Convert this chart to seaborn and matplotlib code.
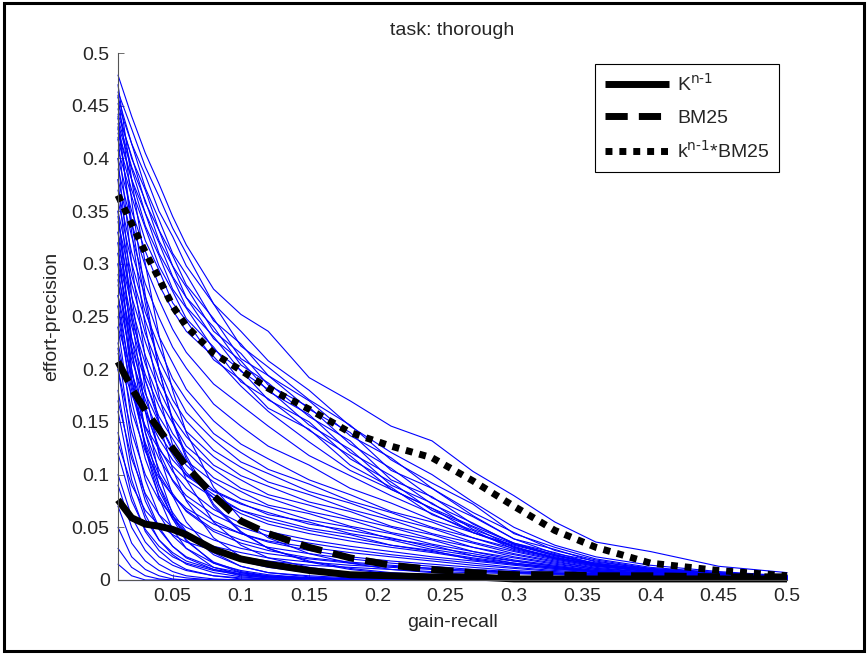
import matplotlib
matplotlib.use("Agg")
import matplotlib.pyplot as plt
import numpy as np
import pandas as pd
import seaborn as sns
from matplotlib.patches import Rectangle
from matplotlib.lines import Line2D

# ---------------- data ----------------
recall = [0.01, 0.02, 0.03, 0.04, 0.05, 0.06, 0.08, 0.10, 0.12, 0.15,
          0.18, 0.21, 0.24, 0.27, 0.30, 0.33, 0.36, 0.40, 0.45, 0.50]

k_n1 = [0.076, 0.059, 0.053, 0.051, 0.048, 0.043, 0.029, 0.020, 0.015, 0.009,
        0.005, 0.004, 0.003, 0.003, 0.001, 0.001, 0.001, 0.001, 0.001, 0.001]
bm25 = [0.207, 0.182, 0.161, 0.143, 0.125, 0.108, 0.080, 0.056, 0.044, 0.031,
        0.021, 0.014, 0.010, 0.007, 0.005, 0.005, 0.004, 0.004, 0.003, 0.003]
k_bm25 = [0.365, 0.338, 0.311, 0.286, 0.260, 0.241, 0.215, 0.199, 0.182, 0.162,
          0.140, 0.127, 0.116, 0.094, 0.070, 0.047, 0.031, 0.016, 0.009, 0.004]

runs_upper = [
    [0.479, 0.440, 0.405, 0.376, 0.345, 0.318, 0.276, 0.252, 0.236, 0.192, 0.170, 0.146, 0.132, 0.103, 0.080, 0.055, 0.036, 0.027, 0.013, 0.007],
    [0.463, 0.428, 0.392, 0.364, 0.334, 0.310, 0.262, 0.236, 0.208, 0.180, 0.146, 0.121, 0.100, 0.074, 0.050, 0.033, 0.022, 0.014, 0.008, 0.004],
    [0.458, 0.414, 0.384, 0.350, 0.326, 0.298, 0.262, 0.222, 0.202, 0.171, 0.147, 0.114, 0.092, 0.072, 0.044, 0.031, 0.020, 0.012, 0.007, 0.004],
    [0.452, 0.414, 0.372, 0.342, 0.310, 0.290, 0.246, 0.224, 0.194, 0.170, 0.137, 0.116, 0.087, 0.064, 0.045, 0.028, 0.019, 0.011, 0.007, 0.004],
    [0.447, 0.400, 0.370, 0.332, 0.308, 0.280, 0.248, 0.210, 0.194, 0.162, 0.140, 0.104, 0.087, 0.061, 0.039, 0.029, 0.017, 0.011, 0.006, 0.003],
    [0.442, 0.402, 0.358, 0.332, 0.298, 0.278, 0.236, 0.215, 0.185, 0.164, 0.129, 0.106, 0.078, 0.060, 0.039, 0.025, 0.018, 0.010, 0.006, 0.003],
    [0.438, 0.392, 0.360, 0.322, 0.298, 0.268, 0.240, 0.204, 0.187, 0.155, 0.132, 0.095, 0.079, 0.053, 0.035, 0.026, 0.015, 0.010, 0.006, 0.003],
    [0.433, 0.390, 0.348, 0.320, 0.288, 0.268, 0.229, 0.208, 0.179, 0.157, 0.121, 0.099, 0.072, 0.054, 0.034, 0.023, 0.016, 0.009, 0.005, 0.003],
    [0.428, 0.380, 0.348, 0.310, 0.287, 0.259, 0.231, 0.198, 0.181, 0.147, 0.124, 0.090, 0.073, 0.048, 0.034, 0.024, 0.014, 0.009, 0.005, 0.003],
    [0.424, 0.380, 0.336, 0.308, 0.276, 0.258, 0.219, 0.199, 0.171, 0.150, 0.115, 0.093, 0.066, 0.050, 0.031, 0.021, 0.015, 0.009, 0.005, 0.003],
    [0.418, 0.370, 0.334, 0.298, 0.274, 0.248, 0.221, 0.188, 0.172, 0.142, 0.118, 0.086, 0.068, 0.045, 0.032, 0.020, 0.013, 0.008, 0.005, 0.003],
    [0.408, 0.364, 0.322, 0.294, 0.263, 0.246, 0.209, 0.190, 0.163, 0.143, 0.109, 0.088, 0.062, 0.047, 0.029, 0.021, 0.014, 0.008, 0.005, 0.003],
]

runs_middle = [
    [0.400, 0.350, 0.312, 0.280, 0.256, 0.236, 0.212, 0.184, 0.160, 0.131, 0.104, 0.086, 0.068, 0.051, 0.035, 0.024, 0.016, 0.010, 0.006, 0.003],
    [0.390, 0.338, 0.298, 0.266, 0.238, 0.216, 0.186, 0.166, 0.146, 0.118, 0.099, 0.080, 0.063, 0.045, 0.033, 0.023, 0.015, 0.009, 0.005, 0.003],
    [0.380, 0.326, 0.281, 0.249, 0.221, 0.201, 0.167, 0.146, 0.127, 0.109, 0.087, 0.073, 0.057, 0.045, 0.031, 0.022, 0.014, 0.009, 0.005, 0.003],
    [0.370, 0.311, 0.269, 0.231, 0.206, 0.181, 0.151, 0.129, 0.115, 0.095, 0.081, 0.065, 0.055, 0.040, 0.030, 0.021, 0.014, 0.008, 0.005, 0.002],
    [0.360, 0.301, 0.254, 0.221, 0.191, 0.171, 0.139, 0.121, 0.105, 0.091, 0.075, 0.064, 0.050, 0.040, 0.028, 0.020, 0.013, 0.008, 0.004, 0.002],
    [0.350, 0.289, 0.246, 0.209, 0.183, 0.159, 0.133, 0.112, 0.101, 0.084, 0.073, 0.059, 0.049, 0.036, 0.027, 0.019, 0.012, 0.007, 0.004, 0.002],
    [0.340, 0.281, 0.234, 0.201, 0.171, 0.151, 0.123, 0.107, 0.093, 0.081, 0.067, 0.057, 0.044, 0.035, 0.025, 0.018, 0.011, 0.007, 0.004, 0.002],
    [0.330, 0.269, 0.226, 0.189, 0.164, 0.141, 0.117, 0.099, 0.089, 0.074, 0.065, 0.051, 0.043, 0.031, 0.024, 0.017, 0.011, 0.007, 0.004, 0.002],
    [0.320, 0.259, 0.213, 0.181, 0.154, 0.136, 0.109, 0.095, 0.081, 0.071, 0.059, 0.050, 0.039, 0.031, 0.022, 0.016, 0.010, 0.006, 0.003, 0.002],
    [0.310, 0.247, 0.205, 0.171, 0.149, 0.127, 0.105, 0.087, 0.078, 0.065, 0.057, 0.045, 0.038, 0.027, 0.021, 0.015, 0.010, 0.006, 0.003, 0.002],
    [0.300, 0.241, 0.195, 0.165, 0.139, 0.122, 0.097, 0.084, 0.071, 0.063, 0.051, 0.044, 0.034, 0.027, 0.019, 0.014, 0.009, 0.005, 0.003, 0.002],
    [0.290, 0.229, 0.189, 0.155, 0.134, 0.113, 0.093, 0.077, 0.069, 0.057, 0.050, 0.039, 0.033, 0.023, 0.018, 0.013, 0.008, 0.005, 0.003, 0.001],
    [0.280, 0.221, 0.177, 0.149, 0.125, 0.109, 0.085, 0.073, 0.062, 0.055, 0.044, 0.038, 0.029, 0.023, 0.016, 0.012, 0.008, 0.005, 0.003, 0.001],
    [0.270, 0.209, 0.171, 0.139, 0.119, 0.099, 0.081, 0.066, 0.059, 0.049, 0.043, 0.033, 0.028, 0.019, 0.015, 0.011, 0.007, 0.004, 0.002, 0.001],
    [0.240, 0.196, 0.160, 0.134, 0.114, 0.100, 0.084, 0.072, 0.064, 0.053, 0.047, 0.040, 0.031, 0.025, 0.018, 0.013, 0.009, 0.006, 0.003, 0.002],
    [0.215, 0.176, 0.146, 0.124, 0.108, 0.095, 0.078, 0.066, 0.056, 0.047, 0.040, 0.033, 0.027, 0.021, 0.016, 0.012, 0.008, 0.005, 0.003, 0.002],
    [0.260, 0.190, 0.145, 0.115, 0.095, 0.080, 0.062, 0.050, 0.042, 0.035, 0.029, 0.024, 0.020, 0.016, 0.012, 0.009, 0.007, 0.005, 0.003, 0.002],
    [0.310, 0.215, 0.160, 0.126, 0.103, 0.087, 0.067, 0.054, 0.046, 0.038, 0.032, 0.027, 0.022, 0.018, 0.014, 0.010, 0.008, 0.005, 0.003, 0.002],
    [0.345, 0.255, 0.190, 0.150, 0.122, 0.102, 0.078, 0.063, 0.053, 0.044, 0.037, 0.031, 0.026, 0.020, 0.015, 0.011, 0.008, 0.005, 0.003, 0.002],
    [0.225, 0.160, 0.122, 0.097, 0.080, 0.068, 0.053, 0.044, 0.037, 0.031, 0.026, 0.022, 0.018, 0.014, 0.011, 0.008, 0.006, 0.004, 0.003, 0.002],
]

runs_steep = [
    [0.470, 0.380, 0.300, 0.232, 0.180, 0.140, 0.088, 0.058, 0.040, 0.025, 0.016, 0.010, 0.007, 0.005, 0.003, 0.002, 0.001, 0.001, 0.000, 0.000],
    [0.460, 0.360, 0.270, 0.200, 0.150, 0.115, 0.070, 0.045, 0.030, 0.018, 0.011, 0.007, 0.005, 0.003, 0.002, 0.001, 0.001, 0.000, 0.000, 0.000],
    [0.440, 0.330, 0.240, 0.175, 0.128, 0.095, 0.055, 0.033, 0.021, 0.012, 0.007, 0.004, 0.003, 0.002, 0.001, 0.001, 0.000, 0.000, 0.000, 0.000],
    [0.430, 0.340, 0.262, 0.200, 0.152, 0.118, 0.072, 0.046, 0.030, 0.017, 0.010, 0.006, 0.004, 0.002, 0.001, 0.001, 0.000, 0.000, 0.000, 0.000],
    [0.420, 0.300, 0.210, 0.150, 0.105, 0.075, 0.040, 0.022, 0.013, 0.007, 0.004, 0.002, 0.001, 0.001, 0.000, 0.000, 0.000, 0.000, 0.000, 0.000],
    [0.400, 0.270, 0.180, 0.120, 0.080, 0.055, 0.026, 0.013, 0.007, 0.004, 0.002, 0.001, 0.000, 0.000, 0.000, 0.000, 0.000, 0.000, 0.000, 0.000],
    [0.380, 0.250, 0.160, 0.100, 0.062, 0.038, 0.016, 0.007, 0.003, 0.001, 0.000, 0.000, 0.000, 0.000, 0.000, 0.000, 0.000, 0.000, 0.000, 0.000],
    [0.350, 0.220, 0.140, 0.090, 0.058, 0.037, 0.017, 0.008, 0.004, 0.002, 0.001, 0.000, 0.000, 0.000, 0.000, 0.000, 0.000, 0.000, 0.000, 0.000],
    [0.320, 0.200, 0.125, 0.078, 0.048, 0.030, 0.012, 0.005, 0.002, 0.001, 0.000, 0.000, 0.000, 0.000, 0.000, 0.000, 0.000, 0.000, 0.000, 0.000],
    [0.300, 0.190, 0.125, 0.085, 0.060, 0.045, 0.028, 0.018, 0.012, 0.007, 0.004, 0.003, 0.002, 0.001, 0.000, 0.000, 0.000, 0.000, 0.000, 0.000],
    [0.270, 0.185, 0.128, 0.090, 0.064, 0.046, 0.024, 0.013, 0.007, 0.003, 0.001, 0.000, 0.000, 0.000, 0.000, 0.000, 0.000, 0.000, 0.000, 0.000],
    [0.260, 0.170, 0.115, 0.080, 0.058, 0.044, 0.028, 0.019, 0.013, 0.008, 0.005, 0.003, 0.002, 0.001, 0.001, 0.000, 0.000, 0.000, 0.000, 0.000],
    [0.240, 0.150, 0.095, 0.062, 0.042, 0.030, 0.016, 0.009, 0.005, 0.002, 0.001, 0.000, 0.000, 0.000, 0.000, 0.000, 0.000, 0.000, 0.000, 0.000],
    [0.220, 0.130, 0.080, 0.050, 0.032, 0.021, 0.010, 0.004, 0.002, 0.001, 0.000, 0.000, 0.000, 0.000, 0.000, 0.000, 0.000, 0.000, 0.000, 0.000],
    [0.200, 0.120, 0.075, 0.048, 0.032, 0.022, 0.012, 0.007, 0.004, 0.002, 0.001, 0.000, 0.000, 0.000, 0.000, 0.000, 0.000, 0.000, 0.000, 0.000],
    [0.180, 0.105, 0.062, 0.038, 0.024, 0.015, 0.007, 0.003, 0.001, 0.000, 0.000, 0.000, 0.000, 0.000, 0.000, 0.000, 0.000, 0.000, 0.000, 0.000],
    [0.160, 0.095, 0.058, 0.038, 0.026, 0.018, 0.010, 0.006, 0.003, 0.001, 0.000, 0.000, 0.000, 0.000, 0.000, 0.000, 0.000, 0.000, 0.000, 0.000],
    [0.140, 0.080, 0.046, 0.028, 0.017, 0.010, 0.004, 0.001, 0.000, 0.000, 0.000, 0.000, 0.000, 0.000, 0.000, 0.000, 0.000, 0.000, 0.000, 0.000],
    [0.120, 0.075, 0.048, 0.032, 0.022, 0.016, 0.009, 0.005, 0.003, 0.002, 0.001, 0.000, 0.000, 0.000, 0.000, 0.000, 0.000, 0.000, 0.000, 0.000],
    [0.100, 0.060, 0.036, 0.022, 0.014, 0.009, 0.004, 0.002, 0.001, 0.000, 0.000, 0.000, 0.000, 0.000, 0.000, 0.000, 0.000, 0.000, 0.000, 0.000],
]

runs_tail = [
    [0.250, 0.180, 0.130, 0.100, 0.080, 0.066, 0.048, 0.038, 0.031, 0.025, 0.020, 0.016, 0.013, 0.010, 0.008, 0.006, 0.005, 0.004, 0.003, 0.002],
    [0.200, 0.140, 0.100, 0.076, 0.060, 0.050, 0.038, 0.030, 0.025, 0.020, 0.016, 0.013, 0.011, 0.009, 0.007, 0.006, 0.005, 0.004, 0.003, 0.002],
    [0.170, 0.115, 0.082, 0.062, 0.050, 0.042, 0.032, 0.026, 0.021, 0.017, 0.014, 0.012, 0.010, 0.008, 0.007, 0.006, 0.005, 0.004, 0.003, 0.002],
    [0.130, 0.090, 0.066, 0.052, 0.043, 0.036, 0.028, 0.022, 0.018, 0.014, 0.012, 0.010, 0.008, 0.007, 0.006, 0.005, 0.004, 0.003, 0.002, 0.002],
    [0.330, 0.230, 0.165, 0.122, 0.094, 0.076, 0.056, 0.044, 0.036, 0.028, 0.022, 0.018, 0.015, 0.012, 0.009, 0.007, 0.006, 0.004, 0.003, 0.002],
    [0.285, 0.200, 0.140, 0.105, 0.082, 0.065, 0.046, 0.035, 0.028, 0.021, 0.017, 0.014, 0.011, 0.009, 0.007, 0.006, 0.005, 0.004, 0.003, 0.002],
]

runs_low = [
    [0.090, 0.050, 0.028, 0.015, 0.008, 0.004, 0.001, 0.000, 0.000, 0.000, 0.000, 0.000, 0.000, 0.000, 0.000, 0.000, 0.000, 0.000, 0.000, 0.000],
    [0.070, 0.035, 0.018, 0.009, 0.004, 0.002, 0.000, 0.000, 0.000, 0.000, 0.000, 0.000, 0.000, 0.000, 0.000, 0.000, 0.000, 0.000, 0.000, 0.000],
    [0.050, 0.022, 0.010, 0.004, 0.001, 0.000, 0.000, 0.000, 0.000, 0.000, 0.000, 0.000, 0.000, 0.000, 0.000, 0.000, 0.000, 0.000, 0.000, 0.000],
    [0.030, 0.012, 0.004, 0.001, 0.000, 0.000, 0.000, 0.000, 0.000, 0.000, 0.000, 0.000, 0.000, 0.000, 0.000, 0.000, 0.000, 0.000, 0.000, 0.000],
    [0.015, 0.004, 0.000, 0.000, 0.000, 0.000, 0.000, 0.000, 0.000, 0.000, 0.000, 0.000, 0.000, 0.000, 0.000, 0.000, 0.000, 0.000, 0.000, 0.000],
    [0.000, 0.000, 0.000, 0.000, 0.000, 0.000, 0.000, 0.000, 0.000, 0.000, 0.000, 0.000, 0.000, 0.000, 0.000, 0.000, 0.000, 0.000, 0.000, 0.000],
]

x_ticks = [0.05, 0.1, 0.15, 0.2, 0.25, 0.3, 0.35, 0.4, 0.45, 0.5]
x_tick_labels = ["0.05", "0.1", "0.15", "0.2", "0.25", "0.3", "0.35", "0.4", "0.45", "0.5"]
y_ticks = [0, 0.05, 0.1, 0.15, 0.2, 0.25, 0.3, 0.35, 0.4, 0.45, 0.5]
y_tick_labels = ["0", "0.05", "0.1", "0.15", "0.2", "0.25", "0.3", "0.35", "0.4", "0.45", "0.5"]

series_labels = [r"K$^{\text{n-1}}$", "BM25", r"k$^{\text{n-1}}$*BM25"]
title_text = "task: thorough"
x_label = "gain-recall"
y_label = "effort-precision"

# ---------------- style ----------------
FS = 14
sns.set_style("ticks")
plt.rcParams["font.family"] = ["Liberation Sans", "DejaVu Sans"]
plt.rcParams["mathtext.default"] = "regular"
plt.rcParams["font.size"] = FS

# ---------------- build tables ----------------
rows = []
run_id = 0
for group in (runs_upper, runs_middle, runs_steep, runs_tail, runs_low):
    for curve in group:
        for xv, yv in zip(recall, curve):
            rows.append({"run": run_id, "recall": xv, "precision": yv})
        run_id += 1
blue_df = pd.DataFrame(rows)

fig = plt.figure(figsize=(8.67, 6.54), dpi=100)
ax = fig.add_axes([118 / 867, 1 - 580 / 654, (787 - 118) / 867, (580 - 53) / 654])

sns.lineplot(data=blue_df, x="recall", y="precision", units="run", estimator=None,
             color="#0000ff", linewidth=0.8, sort=False, legend=False, ax=ax, clip_on=False)

styles = [
    dict(linestyle="-"),
    dict(linestyle=(0, (3.2, 1.6))),
    dict(linestyle=(0, (1.0, 1.0))),
]
handles = []
for vals, lab, st in zip([k_n1, bm25, k_bm25], series_labels, styles):
    d = pd.DataFrame({"recall": recall, "precision": vals})
    sns.lineplot(data=d, x="recall", y="precision", color="black", linewidth=5,
                 sort=False, legend=False, ax=ax, clip_on=False,
                 dash_capstyle="butt", solid_capstyle="butt", **st)
    handles.append(Line2D([], [], color="black", linewidth=5, dash_capstyle="butt",
                          solid_capstyle="butt", **st))

ax.set_xlim(0.01, 0.5)
ax.set_ylim(0, 0.5)
ax.set_xticks(x_ticks)
ax.set_xticklabels(x_tick_labels)
ax.set_yticks(y_ticks)
ax.set_yticklabels(y_tick_labels)
ax.tick_params(direction="in", length=4, width=0.6, color="#555555", labelsize=FS, pad=6)
for side in ("top", "right"):
    ax.spines[side].set_visible(False)
for side in ("left", "bottom"):
    ax.spines[side].set_color("#555555")
    ax.spines[side].set_linewidth(0.8)

ax.set_xlabel(x_label, fontsize=FS, labelpad=6)
ax.set_ylabel(y_label, fontsize=FS, labelpad=8)
ax.set_title(title_text, fontsize=FS, pad=13)

leg = ax.legend(handles, series_labels, loc="upper right", bbox_to_anchor=(0.988, 0.979),
                borderaxespad=0, frameon=True, fancybox=False, edgecolor="black",
                framealpha=1, handlelength=3.3, borderpad=0.5, labelspacing=0.72,
                handletextpad=0.4, fontsize=FS)
leg.get_frame().set_linewidth(0.8)

fig.patches.append(Rectangle((4 / 867, 3 / 654), 860 / 867, 648 / 654, transform=fig.transFigure,
                             fill=False, edgecolor="black", linewidth=2.2))

fig.savefig("out.png", dpi=100)
